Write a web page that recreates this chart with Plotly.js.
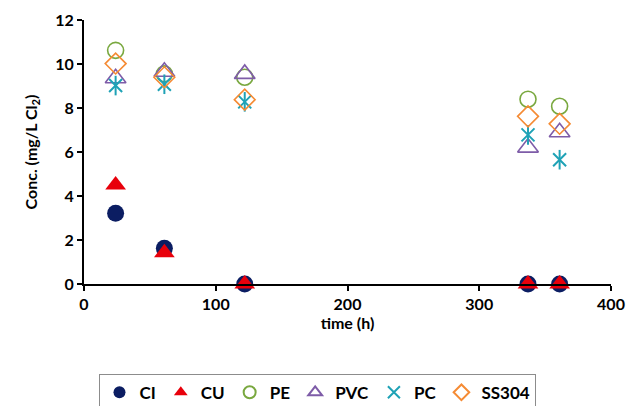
<!DOCTYPE html>
<html><head><meta charset="utf-8">
<script src="https://cdn.plot.ly/plotly-3.0.1.min.js"></script>
<style>body{margin:0;background:#fff}#c{width:628px;height:406px}</style>
</head><body><div id="c"></div>
<script>
const time = [24, 61, 122, 337, 361];
const CI = [3.22, 1.63, 0, 0, 0];
const CU = [4.5, 1.42, 0, 0, 0];
const PE = [10.62, 9.55, 9.4, 8.4, 8.08];
const PVC = [9.35, 9.65, 9.55, 6.2, 6.9];
const PC = [9.02, 9.08, 8.28, 6.78, 5.65];
const SS304 = [10.02, 9.4, 8.38, 7.62, 7.28];

const F = 'Lato, "Open Sans", sans-serif';
function tr(name, y, symbol, color, size, lw, extra) {
  return Object.assign({
    type: 'scatter', mode: 'markers', name: name, x: time, y: y, cliponaxis: false,
    marker: {symbol: symbol, size: size, color: color, line: {color: color, width: lw}}
  }, extra || {});
}
const data = [
  tr('CI', CI, 'circle', '#0b1d62', 17, 0),
  tr('CU', CU, 'triangle-up', '#e8000b', 18, 0),
  tr('PE', PE, 'circle-open', '#79a83f', 16, 1.6),
  tr('PVC', PVC, 'triangle-up-open', '#7e5ca8', 18, 1.6),
  tr('PC', PC, 'x-thin-open', '#1fa2b6', 13, 2, {legendgroup: 'pc'}),
  tr('PC', PC, 'line-ns-open', '#1fa2b6', 14, 2, {legendgroup: 'pc', showlegend: false}),
  tr('SS304', SS304, 'diamond-open', '#f58b34', 16, 1.6)
];
const layout = {
  width: 628, height: 406,
  margin: {l: 84, r: 17, t: 20, b: 122, autoexpand: false},
  paper_bgcolor: '#fff', plot_bgcolor: '#fff',
  font: {family: F, size: 16, color: '#000', weight: 'bold'},
  showlegend: true,
  xaxis: {
    range: [0, 400], dtick: 100, showgrid: false, zeroline: false,
    showline: true, linecolor: '#000', linewidth: 2,
    ticks: 'outside', ticklen: 5, tickwidth: 2, tickcolor: '#000',
    tickfont: {family: F, size: 16, weight: 'bold'},
    title: {text: 'time (h)', font: {family: F, size: 16, weight: 'bold'}, standoff: 6}
  },
  yaxis: {
    range: [0, 12], dtick: 2, showgrid: false, zeroline: false,
    showline: true, linecolor: '#000', linewidth: 2,
    ticks: 'outside', ticklen: 5, tickwidth: 2, tickcolor: '#000',
    tickfont: {family: F, size: 16, weight: 'bold'},
    title: {text: 'Conc. (mg/L Cl<sub>2</sub>)', font: {family: F, size: 16, weight: 'bold'}, standoff: 14}
  },
  legend: {
    orientation: 'h', x: 0.444, xanchor: 'center', y: -0.34, yanchor: 'top',
    bordercolor: '#8c8c8c', borderwidth: 1, bgcolor: '#fff', itemsizing: 'constant',
    font: {family: F, size: 17, weight: 'bold'}, itemwidth: 30, tracegroupgap: 0
  }
};
Plotly.newPlot('c', data, layout, {displayModeBar: false, staticPlot: true});
</script></body></html>
